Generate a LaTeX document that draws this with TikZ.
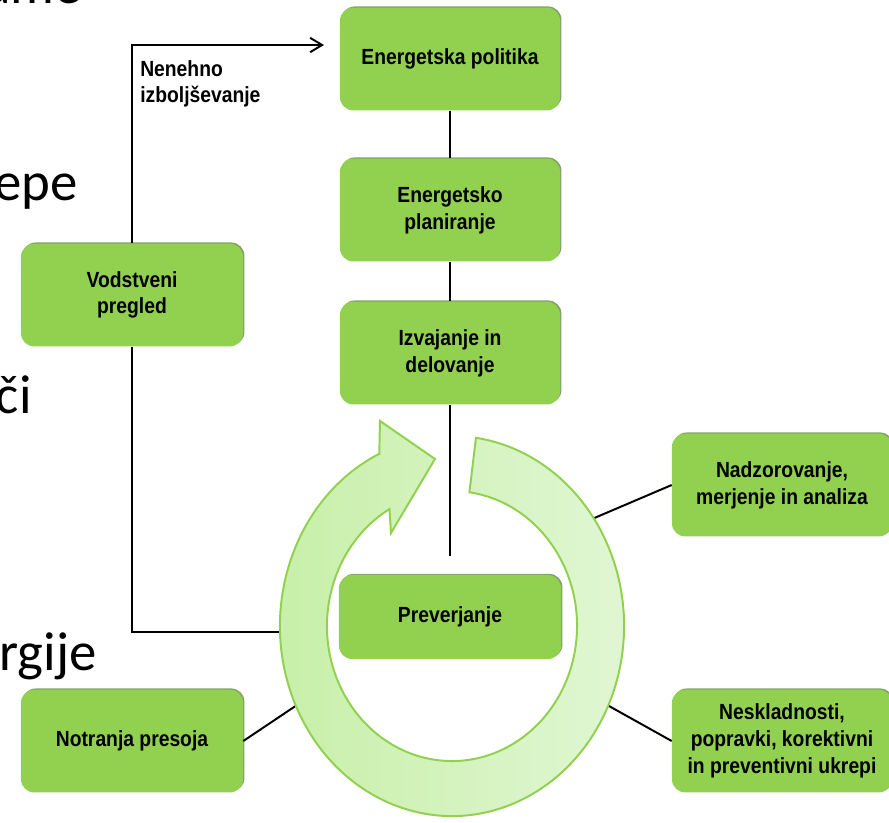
\documentclass[tikz,border=0pt]{standalone}
\usepackage{fontspec}
\setmainfont{Liberation Sans}
\newfontfamily\boxfont[FakeStretch=0.88]{Liberation Sans}
\newfontfamily\slidefont{Carlito}
\usetikzlibrary{arrows.meta, shadows}
\definecolor{boxgreen}{HTML}{92D050}
\definecolor{ringleft}{HTML}{C6EFA6}
\definecolor{ringright}{HTML}{E2F7D6}
\definecolor{shadowgreen}{HTML}{4F7A28}
\tikzset{
  greenbox/.style={fill=boxgreen, rounded corners=0.33cm, minimum width=5.5cm,
    minimum height=2.57cm, align=center, font=\boxfont\bfseries\fontsize{15.6}{19}\selectfont,
    drop shadow={shadow xshift=1pt, shadow yshift=0.8pt, fill=shadowgreen, opacity=0.7}},
  link/.style={line width=1.4pt},
  slidetext/.style={font=\slidefont\fontsize{39}{45}\selectfont, anchor=base east, inner sep=0}
}

\begin{document}
\begin{tikzpicture}[x=0.025cm, y=-0.025cm]

  \useasboundingbox (0,0) rectangle (889,823);
  \clip (0,0) rectangle (889,823);

  % slide text behind the diagram
  \node[slidetext] (frA) at (82,3) {ame};
  \node[slidetext] (frB) at (78,200) {epe};
  \node[slidetext] (frC) at (32,413) {či};
  \node[slidetext] (frD) at (97,670) {ergije};

  \node[greenbox] (pol) at (450,59) {Energetska politika};
  \node[greenbox] (plan) at (450,210) {Energetsko\\planiranje};
  \node[greenbox] (izv) at (450,353) {Izvajanje in\\delovanje};
  \node[greenbox, minimum width=5.55cm, minimum height=2.1cm] (prev) at (450,617) {Preverjanje};
  \node[greenbox, minimum width=5.55cm] (vod) at (132,295) {Vodstveni\\pregled};
  \node[greenbox, minimum width=5.55cm] (notr) at (132,741) {Notranja presoja};
  \node[greenbox] (nadz) at (782,485) {Nadzorovanje,\\merjenje in analiza};
  \node[greenbox] (nesk) at (782,741) {Neskladnosti,\\popravki, korektivni\\in preventivni ukrepi};

  \coordinate (loopEnd) at (324,45);
  \coordinate (midEnd) at (450,556);
  \coordinate (ringW) at (292,632);
  \coordinate (ringSW) at (300,703);
  \coordinate (ringNE) at (592,519);
  \coordinate (ringSE) at (600,701);

  \draw[link, -{Straight Barb[length=3mm, width=3.6mm]}] (vod.north) |- (loopEnd);
  \node[anchor=north west, inner sep=0, align=left, font=\boxfont\bfseries\fontsize{15.6}{19}\selectfont] (lab) at (140,60) {Nenehno\\izboljševanje};
  \draw[link] (vod.south) |- (ringW);
  \draw[link] (pol.south) -- (plan.north);
  \draw[link] (plan.south) -- (izv.north);
  \draw[link] (izv.south) -- (midEnd);
  \draw[link] (notr.east) -- (ringSW);
  \draw[link] (nadz.west) -- (ringNE);
  \draw[link] (nesk.west) -- (ringSE);

  % circular arrow
  \begin{scope}[shift={(452,626)}]
    \filldraw[draw=boxgreen, line width=1.4pt, left color=ringleft, right color=ringright]
      (115:4.3cm and 4.75cm) arc[start angle=115, end angle=442, x radius=4.3cm, y radius=4.75cm]
      -- (442:3.125cm and 3.375cm) arc[start angle=442, end angle=120, x radius=3.125cm, y radius=3.375cm]
      -- (-1.525cm,2.325cm) -- (-0.425cm,4.175cm) -- (-1.8cm,5.125cm) -- cycle;
  \end{scope}

\end{tikzpicture}
\end{document}
